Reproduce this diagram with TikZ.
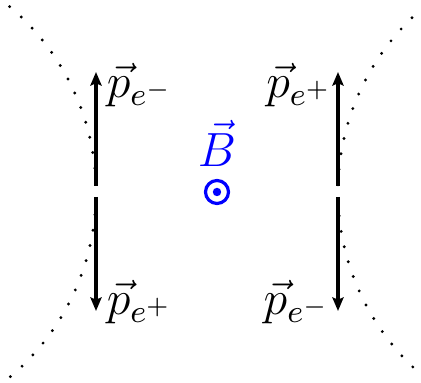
\documentclass[tikz,border=0pt]{standalone}
\usetikzlibrary{arrows.meta}
\begin{document}
\begin{tikzpicture}[x=0.25pt,y=-0.25pt,
  track/.style={line width=0.8pt,dash pattern=on 0pt off 3.9pt,line cap=round},
  mom/.style={line width=0.8pt,-{Stealth[length=3.4pt,width=2.8pt,inset=0.6pt]}},
  lbl/.style={inner sep=0pt,font=\large}]
\useasboundingbox (0,0) rectangle (421,383);
% tracks
\draw[track] (-146,192) ++(-50:242) arc[start angle=-50,end angle=50,radius=242];
\draw[track] (580,192) ++(130:242) arc[start angle=130,end angle=230,radius=242];
% momentum arrows
\coordinate (lu0) at (96,186); \coordinate (lu1) at (96,72);
\coordinate (ld0) at (96,197); \coordinate (ld1) at (96,311);
\coordinate (ru0) at (338,186); \coordinate (ru1) at (338,72);
\coordinate (rd0) at (338,197); \coordinate (rd1) at (338,311);
\draw[mom] (lu0) -- (lu1);
\draw[mom] (ld0) -- (ld1);
\draw[mom] (ru0) -- (ru1);
\draw[mom] (rd0) -- (rd1);
% labels
\node[lbl,anchor=base west] (pl1) at (106,98) {$\vec{p}_{e^-}$};
\node[lbl,anchor=base west] (pl2) at (106,315) {$\vec{p}_{e^+}$};
\node[lbl,anchor=base east] (pr1) at (333,98) {$\vec{p}_{e^+}$};
\node[lbl,anchor=base east] (pr2) at (331,315) {$\vec{p}_{e^-}$};
% magnetic field
\node[lbl,anchor=base,text=blue] (B) at (217,167) {$\vec{B}$};
\draw[blue,line width=0.8pt] (217,192) circle[radius=11.5];
\fill[blue] (217,192) circle[radius=4.2];
\end{tikzpicture}
\end{document}
